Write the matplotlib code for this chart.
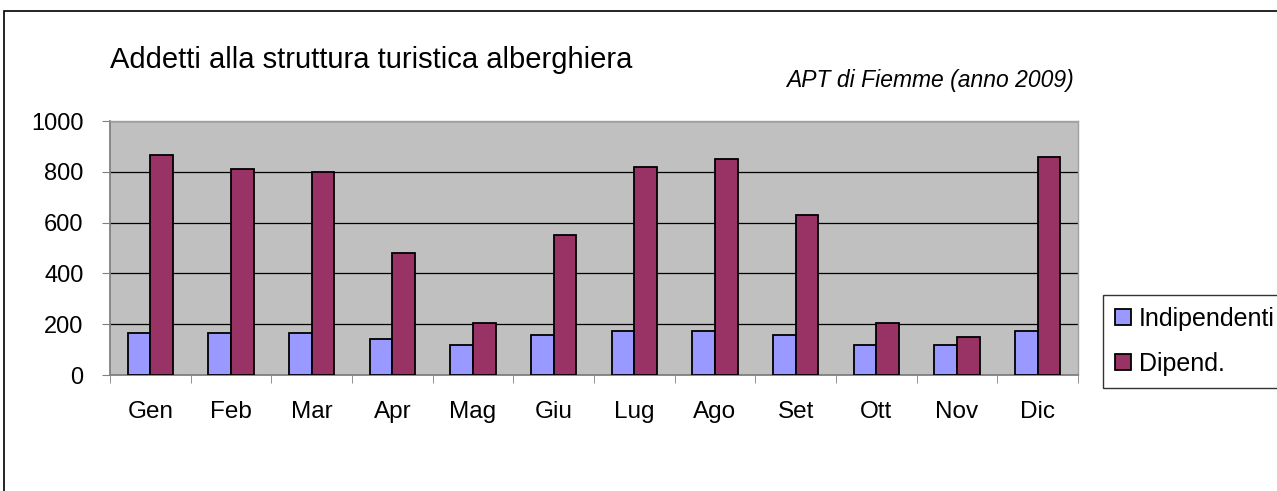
import numpy as np
import matplotlib
matplotlib.use("Agg")
import matplotlib.pyplot as plt
from matplotlib.patches import Rectangle

plt.rcParams['font.family'] = ['Liberation Sans', 'DejaVu Sans']

# dati
mesi = ['Gen', 'Feb', 'Mar', 'Apr', 'Mag', 'Giu', 'Lug', 'Ago', 'Set', 'Ott', 'Nov', 'Dic']
indipendenti = [165, 165, 165, 142, 117, 157, 172, 172, 157, 118, 118, 172]
dipendenti = [865, 810, 800, 480, 205, 550, 818, 850, 630, 205, 150, 858]
y_ticks = [0, 200, 400, 600, 800, 1000]

fig = plt.figure(figsize=(12.77, 4.91), dpi=100)
fig.patch.set_facecolor('white')

# cornice esterna del grafico
fig.patches.append(Rectangle((3.5 / 1277, -0.1), 1.2, 1 - 11 / 491 + 0.1,
                             transform=fig.transFigure, fill=False,
                             edgecolor='black', linewidth=1.2))

ax = fig.add_axes([110 / 1277, 1 - 375 / 491, (1078 - 110) / 1277, (375 - 121) / 491])
ax.set_facecolor('#C0C0C0')

x = np.arange(len(mesi))
w = 0.28
ax.bar(x - w / 2, indipendenti, w, color='#9999FF', edgecolor='black',
       linewidth=1.3, label='Indipendenti', zorder=3)
ax.bar(x + w / 2, dipendenti, w, color='#993366', edgecolor='black',
       linewidth=1.3, label='Dipend.', zorder=3)

ax.set_xlim(-0.5, len(mesi) - 0.5)
ax.set_ylim(0, 1000)
ax.set_yticks(y_ticks)
ax.set_yticklabels([str(v) for v in y_ticks], fontsize=17)
ax.yaxis.grid(True, color='black', linewidth=0.9, zorder=1)
ax.set_axisbelow(True)

ax.set_xticks(x)
ax.set_xticklabels(mesi, fontsize=17.5)
ax.tick_params(axis='x', which='major', length=0, pad=19)
ax.set_xticks(np.arange(-0.5, len(mesi)), minor=True)
ax.tick_params(axis='x', which='minor', length=6, color='#808080', direction='out')
ax.tick_params(axis='y', length=6, color='#808080', direction='out', pad=13)

for s in ['left', 'bottom']:
    ax.spines[s].set_color('#808080')
    ax.spines[s].set_linewidth(1.3)
for s in ['top', 'right']:
    ax.spines[s].set_color('#A0A0A0')
    ax.spines[s].set_linewidth(1.0)

fig.text(110 / 1277, 1 - 68 / 491, 'Addetti alla struttura turistica alberghiera',
         fontsize=21, ha='left', va='baseline')
fig.text(1074 / 1277, 1 - 87 / 491, 'APT di Fiemme (anno 2009)',
         fontsize=16.5, style='italic', ha='right', va='baseline')

leg = fig.legend(loc='upper left', bbox_to_anchor=(1103 / 1277, 1 - 295 / 491),
                 fontsize=18, frameon=True, fancybox=False, handlelength=0.63,
                 handleheight=0.63, handletextpad=0.33, labelspacing=0.85,
                 borderpad=0.47, borderaxespad=0)
leg.get_frame().set_edgecolor('black')
leg.get_frame().set_linewidth(1.0)

fig.savefig('out.png', dpi=100)
